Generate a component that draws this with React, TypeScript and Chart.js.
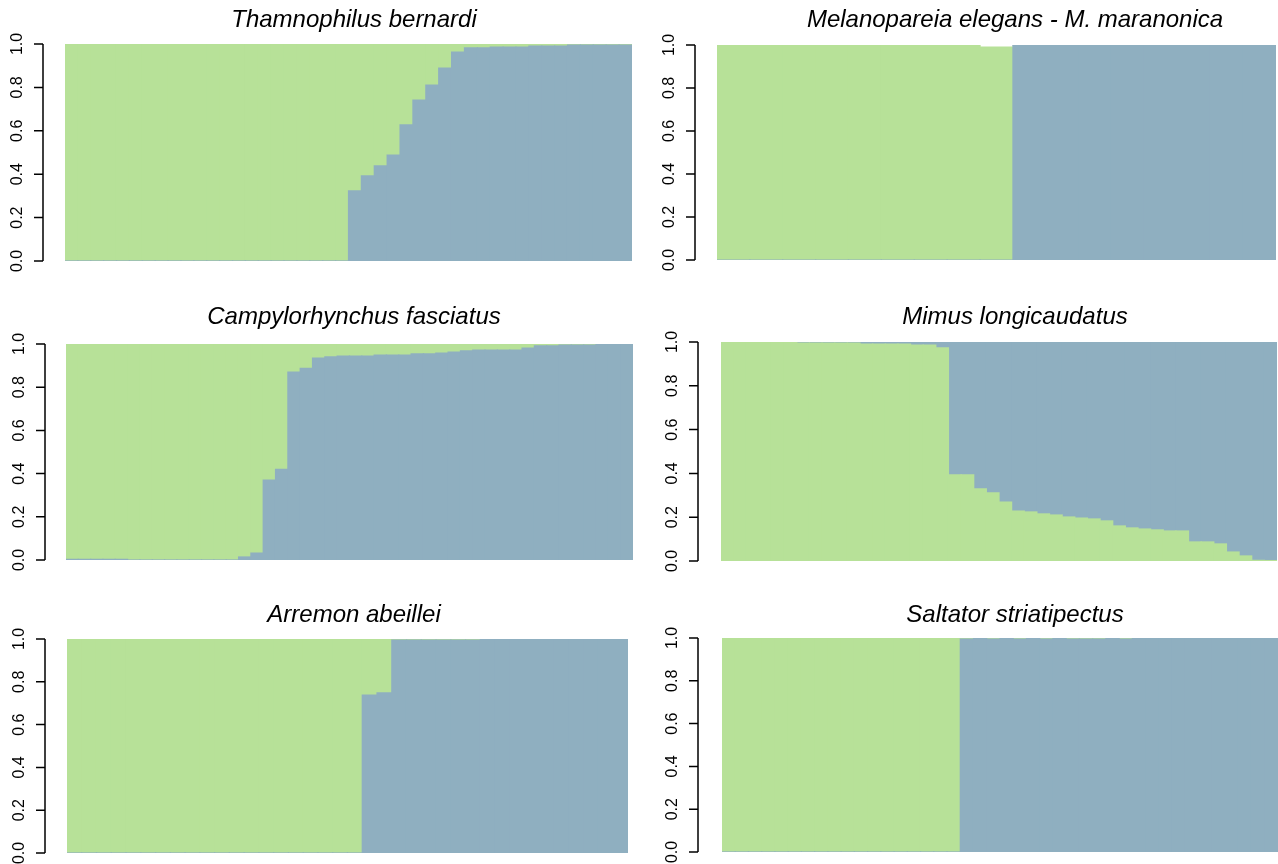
import React, { useEffect, useRef } from 'react';
import { Chart, registerables } from 'chart.js';

Chart.register(...registerables);

const GREEN = '#b7e198';
const BLUE = '#8fafc0';

const tickValues = [0, 0.2, 0.4, 0.6, 0.8, 1.0];
const tickLabels = ['0.0', '0.2', '0.4', '0.6', '0.8', '1.0'];

const titles = [
  'Thamnophilus bernardi',
  'Melanopareia elegans - M. maranonica',
  'Campylorhynchus fasciatus',
  'Mimus longicaudatus',
  'Arremon abeillei',
  'Saltator striatipectus',
];

// Panel 1: Thamnophilus bernardi (44 individuals)
const p1Blue = [
  0, 0, 0, 0, 0, 0, 0, 0, 0, 0, 0, 0, 0, 0, 0, 0, 0, 0, 0, 0, 0, 0,
  0.323, 0.392, 0.438, 0.488, 0.627, 0.742, 0.811, 0.889, 0.963, 0.982,
  0.982, 0.986, 0.986, 0.986, 0.99, 0.99, 0.99, 0.995, 0.995, 0.995, 0.995, 0.995,
];
const p1Green = [
  1, 1, 1, 1, 1, 1, 1, 1, 1, 1, 1, 1, 1, 1, 1, 1, 1, 1, 1, 1, 1, 1,
  0.677, 0.608, 0.562, 0.512, 0.373, 0.258, 0.189, 0.111, 0.037, 0.018,
  0.018, 0.014, 0.014, 0.014, 0.01, 0.01, 0.01, 0.005, 0.005, 0.005, 0.005, 0.005,
];

// Panel 2: Melanopareia (17 individuals)
const p2Blue = [0, 0, 0, 0, 0, 0, 0, 0, 0, 1, 1, 1, 1, 1, 1, 1, 1];
const p2Green = [1, 1, 1, 1, 1, 1, 1, 1, 0.99, 0, 0, 0, 0, 0, 0, 0, 0];

// Panel 3: Campylorhynchus fasciatus (46 individuals)
const p3Blue = [
  0.003, 0.003, 0.003, 0.003, 0.003, 0, 0, 0, 0, 0, 0, 0, 0, 0,
  0.014, 0.032, 0.37, 0.42, 0.87, 0.887, 0.935, 0.94,
  0.944, 0.944, 0.944, 0.949, 0.949, 0.949, 0.954, 0.954,
  0.958, 0.963, 0.968, 0.972, 0.972, 0.972, 0.972, 0.981,
  0.991, 0.991, 0.995, 0.995, 0.995, 1, 1, 1,
];
const p3Green = [
  0.997, 0.997, 0.997, 0.997, 0.997, 1, 1, 1, 1, 1, 1, 1, 1, 1,
  0.986, 0.968, 0.63, 0.58, 0.13, 0.113, 0.065, 0.06,
  0.056, 0.056, 0.056, 0.051, 0.051, 0.051, 0.046, 0.046,
  0.042, 0.037, 0.032, 0.028, 0.028, 0.028, 0.028, 0.019,
  0.009, 0.009, 0.005, 0.005, 0.005, 0, 0, 0,
];

// Panel 4: Mimus longicaudatus (44 individuals), green at bottom
const p4Green = [
  0.998, 0.998, 0.998, 0.998, 0.998, 0.998, 0.995, 0.995, 0.995, 0.995, 0.995,
  0.99, 0.99, 0.99, 0.99, 0.986, 0.986, 0.973, 0.393, 0.393,
  0.329, 0.311, 0.269, 0.228, 0.224, 0.215, 0.21, 0.201, 0.196, 0.192,
  0.183, 0.16, 0.151, 0.146, 0.142, 0.137, 0.137, 0.087, 0.087, 0.078,
  0.041, 0.023, 0.003, 0.002,
];
const p4Blue = [
  0.002, 0.002, 0.002, 0.002, 0.002, 0.002, 0.005, 0.005, 0.005, 0.005, 0.005,
  0.01, 0.01, 0.01, 0.01, 0.014, 0.014, 0.027, 0.607, 0.607,
  0.671, 0.689, 0.731, 0.772, 0.776, 0.785, 0.79, 0.799, 0.804, 0.808,
  0.817, 0.84, 0.849, 0.854, 0.858, 0.863, 0.863, 0.913, 0.913, 0.922,
  0.959, 0.977, 0.997, 0.998,
];

// Panel 5: Arremon abeillei (38 individuals)
const p5Blue = [
  0, 0, 0, 0, 0, 0, 0, 0, 0, 0, 0, 0, 0, 0, 0, 0, 0, 0, 0, 0,
  0.738, 0.748, 0.995, 0.995, 0.995, 0.995, 0.995, 0.995,
  1, 1, 1, 1, 1, 1, 1, 1, 1, 1,
];
const p5Green = [
  1, 1, 1, 1, 1, 1, 1, 1, 1, 1, 1, 1, 1, 1, 1, 1, 1, 1, 1, 1,
  0.262, 0.252, 0.005, 0.005, 0.005, 0.005, 0.005, 0.005,
  0, 0, 0, 0, 0, 0, 0, 0, 0, 0,
];

// Panel 6: Saltator striatipectus (42 individuals)
const p6Blue = [
  0, 0, 0, 0, 0, 0, 0, 0, 0, 0, 0, 0, 0, 0, 0, 0, 0, 0,
  0.995, 1, 0.995, 1, 0.995, 1, 0.995, 1, 0.995, 0.995, 0.995, 1, 0.995,
  1, 1, 1, 1, 1, 1, 1, 1, 1, 1, 1,
];
const p6Green = [
  1, 1, 1, 1, 1, 1, 1, 1, 1, 1, 1, 1, 1, 1, 1, 1, 1, 1,
  0.005, 0, 0.005, 0, 0.005, 0, 0.005, 0, 0.005, 0.005, 0.005, 0, 0.005,
  0, 0, 0, 0, 0, 0, 0, 0, 0, 0, 0,
];

type Box = { x: number; y: number; w: number; h: number };
type Plot = { l: number; r: number; t: number; b: number };
type Spec = {
  title: string;
  cell: Box;
  plot: Plot;
  axisX: number;
  titleX: number;
  titleY: number;
  bottom: { data: number[]; color: string };
  top: { data: number[]; color: string };
};

const specs: Spec[] = [
  {
    title: titles[0], cell: { x: 0, y: 0, w: 639, h: 290 }, plot: { l: 65, r: 632, t: 44, b: 261 },
    axisX: 43, titleX: 354, titleY: 20,
    bottom: { data: p1Blue, color: BLUE }, top: { data: p1Green, color: GREEN },
  },
  {
    title: titles[1], cell: { x: 639, y: 0, w: 639, h: 290 }, plot: { l: 717, r: 1276, t: 45, b: 260 },
    axisX: 695, titleX: 1015, titleY: 20,
    bottom: { data: p2Blue, color: BLUE }, top: { data: p2Green, color: GREEN },
  },
  {
    title: titles[2], cell: { x: 0, y: 290, w: 639, h: 290 }, plot: { l: 66, r: 633, t: 344, b: 560 },
    axisX: 45, titleX: 354, titleY: 317,
    bottom: { data: p3Blue, color: BLUE }, top: { data: p3Green, color: GREEN },
  },
  {
    title: titles[3], cell: { x: 639, y: 290, w: 639, h: 290 }, plot: { l: 721, r: 1277, t: 342, b: 561 },
    axisX: 698, titleX: 1015, titleY: 317,
    bottom: { data: p4Green, color: GREEN }, top: { data: p4Blue, color: BLUE },
  },
  {
    title: titles[4], cell: { x: 0, y: 580, w: 639, h: 284 }, plot: { l: 67, r: 628, t: 639, b: 853 },
    axisX: 45, titleX: 354, titleY: 615,
    bottom: { data: p5Blue, color: BLUE }, top: { data: p5Green, color: GREEN },
  },
  {
    title: titles[5], cell: { x: 639, y: 580, w: 639, h: 284 }, plot: { l: 722, r: 1278, t: 638, b: 852 },
    axisX: 698, titleX: 1015, titleY: 615,
    bottom: { data: p6Blue, color: BLUE }, top: { data: p6Green, color: GREEN },
  },
];

function Panel({ spec }: { spec: Spec }) {
  const ref = useRef<HTMLCanvasElement | null>(null);

  useEffect(() => {
    if (!ref.current) return;
    const { cell, plot } = spec;
    const labels = spec.bottom.data.map((_, i) => String(i + 1));
    const decor = {
      id: 'decor',
      afterDraw(chart: any) {
        const ctx = chart.ctx as CanvasRenderingContext2D;
        const y = chart.scales.y;
        ctx.save();
        ctx.fillStyle = '#000';
        ctx.font = 'italic 24px "Liberation Sans", Arial, sans-serif';
        ctx.textAlign = 'center';
        ctx.textBaseline = 'middle';
        ctx.fillText(spec.title, spec.titleX - cell.x, spec.titleY - cell.y);

        const ax = spec.axisX - cell.x;
        ctx.strokeStyle = '#000';
        ctx.lineWidth = 1.5;
        ctx.beginPath();
        ctx.moveTo(ax, y.getPixelForValue(0));
        ctx.lineTo(ax, y.getPixelForValue(1));
        tickValues.forEach((v) => {
          const py = y.getPixelForValue(v);
          ctx.moveTo(ax - 9, py);
          ctx.lineTo(ax, py);
        });
        ctx.stroke();

        ctx.font = '16px "Liberation Sans", Arial, sans-serif';
        tickValues.forEach((v, i) => {
          const py = y.getPixelForValue(v);
          ctx.save();
          ctx.translate(ax - 25, py);
          ctx.rotate(-Math.PI / 2);
          ctx.fillText(tickLabels[i], 0, 0);
          ctx.restore();
        });
        ctx.restore();
      },
    };

    const chart = new Chart(ref.current, {
      type: 'bar',
      data: {
        labels,
        datasets: [
          {
            data: spec.bottom.data,
            backgroundColor: spec.bottom.color,
            borderWidth: 0,
            barPercentage: 1,
            categoryPercentage: 1,
            inflateAmount: 0.6,
          },
          {
            data: spec.top.data,
            backgroundColor: spec.top.color,
            borderWidth: 0,
            barPercentage: 1,
            categoryPercentage: 1,
            inflateAmount: 0.6,
          },
        ],
      },
      options: {
        animation: false,
        responsive: false,
        devicePixelRatio: 1,
        events: [],
        layout: {
          padding: {
            left: plot.l - cell.x,
            right: cell.x + cell.w - plot.r,
            top: plot.t - cell.y,
            bottom: cell.y + cell.h - plot.b,
          },
        },
        plugins: {
          legend: { display: false },
          tooltip: { enabled: false },
          title: { display: false },
        },
        scales: {
          x: { stacked: true, display: false, grid: { display: false } },
          y: { stacked: true, display: false, min: 0, max: 1, grid: { display: false } },
        },
      },
      plugins: [decor],
    });
    return () => chart.destroy();
  }, [spec]);

  return (
    <canvas
      ref={ref}
      width={spec.cell.w}
      height={spec.cell.h}
      style={{
        position: 'absolute',
        left: spec.cell.x,
        top: spec.cell.y,
        width: spec.cell.w,
        height: spec.cell.h,
      }}
    />
  );
}

export default function App() {
  return (
    <div
      style={{
        position: 'absolute',
        left: 0,
        top: 0,
        width: 1278,
        height: 864,
        background: '#ffffff',
        overflow: 'hidden',
      }}
    >
      {specs.map((s, i) => (
        <Panel key={i} spec={s} />
      ))}
    </div>
  );
}
